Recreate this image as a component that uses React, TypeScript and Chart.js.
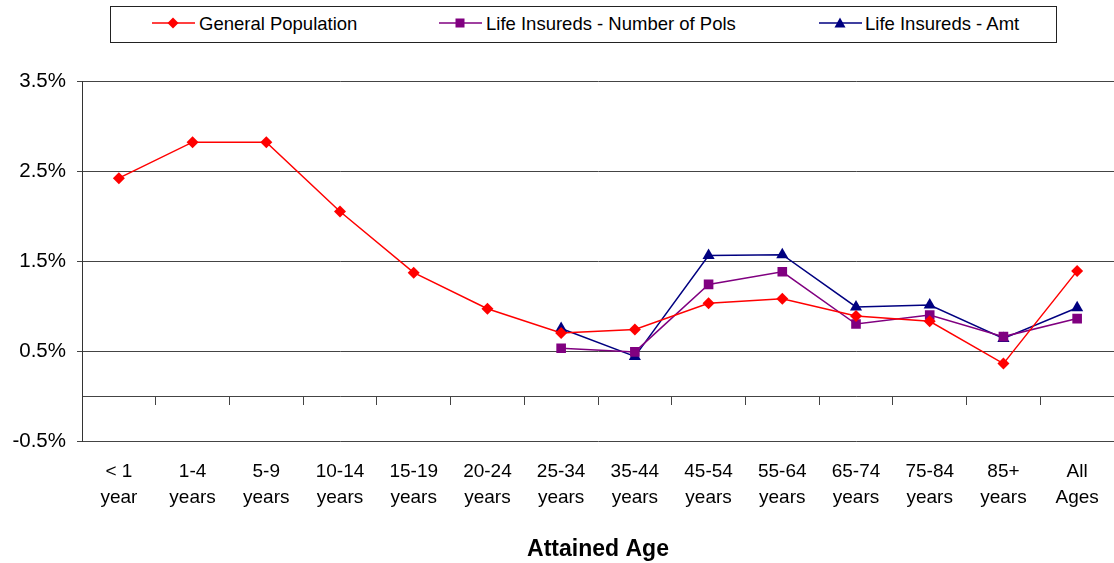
import React, { useEffect, useRef } from "react";
import { Chart, registerables } from "chart.js";

Chart.register(...registerables);

const categories: string[][] = [
  ["< 1", "year"],
  ["1-4", "years"],
  ["5-9", "years"],
  ["10-14", "years"],
  ["15-19", "years"],
  ["20-24", "years"],
  ["25-34", "years"],
  ["35-44", "years"],
  ["45-54", "years"],
  ["55-64", "years"],
  ["65-74", "years"],
  ["75-84", "years"],
  ["85+", "years"],
  ["All", "Ages"],
];

const generalPopulation: (number | null)[] = [
  2.42, 2.82, 2.82, 2.05, 1.37, 0.97, 0.7, 0.74, 1.03, 1.08, 0.89, 0.83, 0.36, 1.39,
];
const lifeInsuredsPols: (number | null)[] = [
  null, null, null, null, null, null, 0.53, 0.49, 1.24, 1.38, 0.8, 0.9, 0.66, 0.86,
];
const lifeInsuredsAmt: (number | null)[] = [
  null, null, null, null, null, null, 0.75, 0.44, 1.56, 1.57, 0.99, 1.01, 0.64, 0.98,
];

const seriesNames = [
  "General Population",
  "Life Insureds - Number of Pols",
  "Life Insureds - Amt",
];
const seriesColors = ["#FF0000", "#800080", "#000080"];

const yMin = -0.5;
const yMax = 3.5;
const yStep = 1;
const xTitle = "Attained Age";

const FONT = '"Liberation Sans", Arial, Helvetica, sans-serif';

function Marker({ kind, color }: { kind: number; color: string }) {
  let shape: React.ReactNode = null;
  if (kind === 0) shape = <polygon points="21,1.5 26.5,7 21,12.5 15.5,7" fill={color} />;
  if (kind === 1) shape = <rect x={16.5} y={2.5} width={9} height={9} fill={color} />;
  if (kind === 2) shape = <polygon points="21,1.5 26.5,11.5 15.5,11.5" fill={color} />;
  return (
    <svg width={43} height={14} style={{ display: "block" }}>
      <line x1={0} y1={7} x2={43} y2={7} stroke={color} strokeWidth={1.5} />
      {shape}
    </svg>
  );
}

export default function App() {
  const ref = useRef<HTMLCanvasElement | null>(null);

  useEffect(() => {
    if (!ref.current) return;
    const chart = new Chart(ref.current, {
      type: "line",
      data: {
        labels: categories,
        datasets: [
          {
            label: seriesNames[0],
            data: generalPopulation,
            borderColor: seriesColors[0],
            backgroundColor: seriesColors[0],
            borderWidth: 1.5,
            pointStyle: "rectRot",
            pointRadius: 6,
            pointBorderWidth: 0,
            tension: 0,
          },
          {
            label: seriesNames[1],
            data: lifeInsuredsPols,
            borderColor: seriesColors[1],
            backgroundColor: seriesColors[1],
            borderWidth: 1.5,
            pointStyle: "rect",
            pointRadius: 6.8,
            pointBorderWidth: 0,
            tension: 0,
          },
          {
            label: seriesNames[2],
            data: lifeInsuredsAmt,
            borderColor: seriesColors[2],
            backgroundColor: seriesColors[2],
            borderWidth: 1.5,
            pointStyle: "triangle",
            pointRadius: 7,
            pointBorderWidth: 0,
            tension: 0,
          },
        ],
      },
      options: {
        responsive: false,
        animation: false,
        layout: { autoPadding: false, padding: { top: 81, left: 0, right: 0, bottom: 0 } },
        plugins: {
          legend: { display: false },
          tooltip: { enabled: false },
        },
        scales: {
          x: {
            type: "category",
            position: "bottom",
            offset: true,
            grid: { display: false, drawTicks: true, tickLength: 18 },
            border: { display: false },
            ticks: {
              color: "#000",
              font: { family: FONT, size: 19, lineHeight: 1.37 },
              padding: 0,
              maxRotation: 0,
              autoSkip: false,
            },
            title: {
              display: true,
              text: xTitle,
              color: "#000",
              font: { family: FONT, size: 23, weight: "bold" },
              padding: { top: 0, bottom: 0 },
            },
            afterFit: (scale: any) => {
              scale.height = 122;
              scale.paddingLeft = 0;
              scale.paddingRight = 0;
            },
          },
          x0: {
            type: "category",
            axis: "x",
            position: { y: 0 },
            offset: true,
            grid: {
              offset: true,
              drawOnChartArea: false,
              drawTicks: true,
              tickLength: 8,
              color: "#444",
              lineWidth: 1,
            },
            border: { display: true, color: "#444", width: 1 },
            ticks: { display: false, padding: 0 },
            afterFit: (scale: any) => {
              scale.paddingLeft = 0;
              scale.paddingRight = 0;
            },
          },
          y: {
            type: "linear",
            min: yMin,
            max: yMax,
            ticks: {
              stepSize: yStep,
              color: "#000",
              font: { family: FONT, size: 20.5 },
              padding: 11,
              callback: (v: any) => Number(v).toFixed(1) + "%",
            },
            grid: { color: "#444", lineWidth: 1, tickLength: 5, drawTicks: true },
            border: { display: true, color: "#333", width: 1 },
            afterFit: (scale: any) => {
              scale.width = 82;
            },
          },
        },
      },
    } as any);
    return () => chart.destroy();
  }, []);

  const legendItems = [
    { line: 152, text: 199 },
    { line: 439, text: 486 },
    { line: 819, text: 865 },
  ];

  return (
    <div
      style={{
        position: "fixed",
        left: 0,
        top: 0,
        width: 1114,
        height: 563,
        background: "#fff",
        fontFamily: FONT,
      }}
    >
      <canvas ref={ref} width={1114} height={563} style={{ display: "block" }} />
      <div
        style={{
          position: "absolute",
          left: 110,
          top: 6,
          width: 945,
          height: 35,
          border: "1px solid #222",
          background: "#fff",
        }}
      />
      {legendItems.map((it, i) => (
        <React.Fragment key={i}>
          <div style={{ position: "absolute", left: it.line, top: 16 }}>
            <Marker kind={i} color={seriesColors[i]} />
          </div>
          <div
            style={{
              position: "absolute",
              left: it.text,
              top: 13,
              fontSize: 18.5,
              lineHeight: "22px",
              color: "#000",
              whiteSpace: "nowrap",
            }}
          >
            {seriesNames[i]}
          </div>
        </React.Fragment>
      ))}
    </div>
  );
}
